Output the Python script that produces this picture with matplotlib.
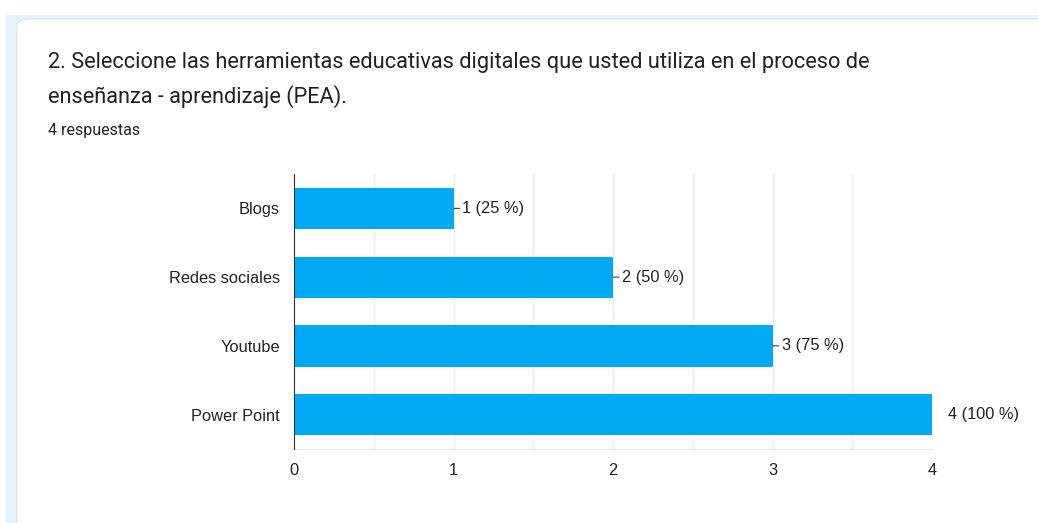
import matplotlib.pyplot as plt
from matplotlib.patches import FancyBboxPatch, Rectangle

# datos de la encuesta
categorias = ["Blogs", "Redes sociales", "Youtube", "Power Point"]
valores = [1, 2, 3, 4]
total_respuestas = 4
ticks_x = [0, 1, 2, 3, 4]

titulo_1 = "2. Seleccione las herramientas educativas digitales que usted utiliza en el proceso de"
titulo_2 = "enseñanza - aprendizaje (PEA)."
subtitulo = "4 respuestas"

W, H = 1038, 523
fig = plt.figure(figsize=(W / 100, H / 100), dpi=100)
fig.patch.set_facecolor("white")

# fondo celeste y tarjeta blanca
fig.patches.append(Rectangle((6 / W, 0), 1, 1 - 15 / H, transform=fig.transFigure,
                             facecolor="#e3f2fb", edgecolor="none", zorder=0))
fig.patches.append(FancyBboxPatch((17 / W, -0.1), 1.1, 1 - 19 / H + 0.1,
                                  boxstyle="round,pad=0,rounding_size=0.012",
                                  transform=fig.transFigure, facecolor="white",
                                  edgecolor="#e0e3e6", linewidth=0.8, zorder=1))

fig.text(48 / W, 1 - 62 / H, titulo_1, fontsize=15.7, family="Roboto",
         color="#202124", va="center")
fig.text(48 / W, 1 - 97 / H, titulo_2, fontsize=15.7, family="Roboto",
         color="#202124", va="center")
fig.text(48 / W, 1 - 131 / H, subtitulo, fontsize=11.5, family="Roboto",
         color="#202124", va="center")

ax = fig.add_axes([294 / W, 1 - 449 / H, (932 - 294) / W, (449 - 174) / H])
ax.set_zorder(2)
ax.patch.set_alpha(0)

y = list(range(len(categorias)))
ax.barh(y, valores, height=0.6, color="#00a9f4", zorder=3)
ax.set_ylim(len(categorias) - 0.5, -0.5)
ax.set_xlim(0, 4)

ax.set_xticks(ticks_x)
ax.set_xticklabels([str(t) for t in ticks_x])
ax.set_xticks([0.5, 1.5, 2.5, 3.5], minor=True)
ax.set_yticks(y)
ax.set_yticklabels(categorias)
ax.tick_params(axis="both", which="both", length=0, labelsize=11.8,
               labelcolor="#222222", pad=10)
for lbl in ax.get_xticklabels() + ax.get_yticklabels():
    lbl.set_family("Liberation Sans")

ax.grid(axis="x", which="both", color="#eeeeee", linewidth=1, zorder=0)
ax.grid(axis="y", visible=False)
for s in ["top", "right"]:
    ax.spines[s].set_visible(False)
ax.spines["bottom"].set_color("#e6e6e6")
ax.spines["left"].set_color("#333333")
ax.spines["left"].set_zorder(4)

for i, v in enumerate(valores):
    txt = f"{v} ({v * 100 // total_respuestas} %)"
    if v < max(ticks_x):
        ax.annotate(txt, xy=(v, i), xytext=(9, 0), textcoords="offset pixels",
                    va="center", ha="left", fontsize=11.8, color="#222222",
                    family="Liberation Sans",
                    arrowprops=dict(arrowstyle="-", color="#444444", lw=0.8,
                                    shrinkA=0, shrinkB=0))
    else:
        ax.annotate(txt, xy=(v, i), xytext=(16, 0), textcoords="offset pixels",
                    va="center", ha="left", fontsize=11.8, color="#222222",
                    family="Liberation Sans", annotation_clip=False)

fig.savefig("out.png", dpi=100)
